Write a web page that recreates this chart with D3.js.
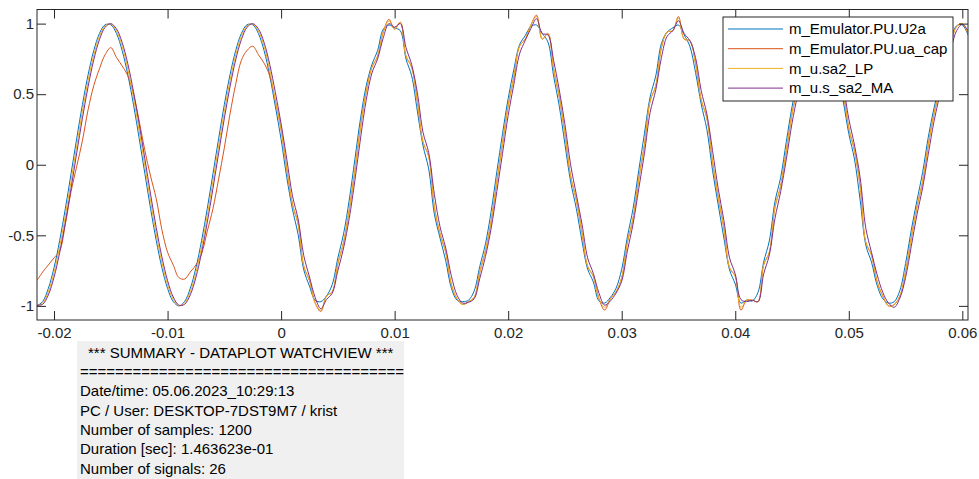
<!DOCTYPE html>
<html><head><meta charset="utf-8">
<script src="https://cdn.jsdelivr.net/npm/d3@7"></script>
<style>
body{margin:0;background:#fff}
svg{display:block}
text{font-family:"Liberation Sans",Arial,Helvetica,sans-serif}
</style>
</head><body>
<svg id="chart" width="979" height="479"></svg>
<script>
// ---------- data ----------
const sampleStart = -0.0215;
const sampleStep = 0.0005;

const seriesNames = ["m_Emulator.PU.U2a", "m_Emulator.PU.ua_cap", "m_u.sa2_LP", "m_u.s_sa2_MA"];
const seriesColors = ["#0072BD", "#D95319", "#EDB120", "#7E2F8E"];

const u2a = [
-1.000,-0.969,-0.876,-0.729,-0.536,-0.309,-0.063,0.187,0.426,0.637,
0.809,0.930,0.992,0.992,0.930,0.809,0.637,0.426,0.187,-0.063,
-0.309,-0.536,-0.729,-0.876,-0.969,-1.000,-0.969,-0.876,-0.729,-0.536,
-0.309,-0.063,0.187,0.426,0.637,0.809,0.930,0.992,0.992,0.930,
0.809,0.63,0.41,0.18,-0.09,-0.315,-0.495,-0.745,-0.86,-0.96,
-0.97,-0.93,-0.85,-0.66,-0.49,-0.25,0.04,0.33,0.56,0.71,
0.81,0.96,0.99,0.97,0.95,0.75,0.63,0.38,0.135,-0.03,
-0.35,-0.52,-0.68,-0.875,-0.96,-0.97,-0.96,-0.895,-0.72,-0.56,
-0.33,-0.05,0.22,0.47,0.675,0.85,0.915,0.98,0.99,0.93,
0.87,0.63,0.415,0.145,-0.12,-0.31,-0.54,-0.74,-0.83,-0.965,
-0.98,-0.94,-0.875,-0.74,-0.51,-0.31,-0.04,0.22,0.48,0.63,
0.86,0.94,0.97,0.99,0.92,0.84,0.655,0.43,0.25,-0.04,
-0.285,-0.52,-0.745,-0.845,-0.98,-0.96,-0.965,-0.905,-0.69,-0.54,
-0.26,-0.09,0.165,0.41,0.60,0.79,0.92,0.985,0.99,0.925,
0.81,0.655,0.455,0.22,0.04,-0.25,-0.57,-0.69,-0.855,-0.95,
-0.98,-0.97,-0.89,-0.70,-0.465,-0.255,-0.055,0.195,0.40,0.57,
0.74,0.89,0.985,0.99,0.92
];

const uaCap = [
-0.82,-0.76,-0.71,-0.66,-0.61,-0.42,-0.19,-0.01,0.17,0.39,
0.56,0.68,0.78,0.83,0.76,0.70,0.63,0.50,0.31,0.10,
-0.08,-0.24,-0.46,-0.62,-0.71,-0.80,-0.81,-0.76,-0.71,-0.63,
-0.47,-0.31,-0.10,0.12,0.36,0.57,0.74,0.81,0.84,0.78,
0.72,0.63,0.45,0.25,-0.03,-0.28,-0.42,-0.72,-0.82,-0.98,
-1.04,-0.93,-0.90,-0.70,-0.55,-0.32,-0.04,0.27,0.52,0.69,
0.77,0.94,1.03,0.96,1.01,0.77,0.69,0.45,0.16,0.06,
-0.30,-0.49,-0.62,-0.85,-0.95,-0.99,-0.97,-0.94,-0.76,-0.61,
-0.40,-0.12,0.15,0.42,0.62,0.84,0.89,0.99,1.06,0.89,
0.93,0.68,0.48,0.22,-0.08,-0.25,-0.48,-0.72,-0.79,-0.95,
-1.03,-0.95,-0.90,-0.80,-0.55,-0.38,-0.10,0.14,0.45,0.56,
0.83,0.94,0.95,1.05,0.89,0.88,0.72,0.46,0.33,0.02,
-0.23,-0.45,-0.73,-0.79,-1.03,-0.96,-0.96,-0.97,-0.71,-0.62,
-0.30,-0.15,0.10,0.36,0.55,0.75,0.90,0.98,1.00,0.95,
0.85,0.70,0.52,0.26,0.10,-0.15,-0.55,-0.64,-0.83,-0.93,
-1.00,-0.99,-0.93,-0.76,-0.52,-0.30,-0.12,0.14,0.36,0.53,
0.70,0.86,0.98,1.00,0.93
];

const sa2LP = [
-0.999,-0.980,-0.900,-0.764,-0.579,-0.358,-0.115,0.136,0.378,0.596,
0.777,0.909,0.984,0.997,0.948,0.839,0.677,0.473,0.239,-0.010,
-0.259,-0.491,-0.692,-0.850,-0.954,-0.999,-0.980,-0.900,-0.764,-0.579,
-0.358,-0.115,0.136,0.378,0.596,0.777,0.909,0.984,0.997,0.948,
0.839,0.67,0.45,0.25,-0.03,-0.28,-0.42,-0.72,-0.82,-0.98,
-1.03,-0.93,-0.90,-0.70,-0.55,-0.32,-0.04,0.27,0.52,0.69,
0.77,0.94,1.02,0.96,1.01,0.77,0.69,0.45,0.16,0.06,
-0.30,-0.49,-0.62,-0.85,-0.95,-0.99,-0.97,-0.94,-0.76,-0.61,
-0.40,-0.12,0.15,0.42,0.62,0.84,0.89,0.99,1.05,0.89,
0.93,0.68,0.48,0.22,-0.08,-0.25,-0.48,-0.72,-0.79,-0.95,
-1.01,-0.95,-0.90,-0.80,-0.55,-0.38,-0.10,0.14,0.45,0.56,
0.83,0.94,0.95,1.04,0.89,0.88,0.72,0.46,0.33,0.02,
-0.23,-0.45,-0.73,-0.79,-1.01,-0.96,-0.96,-0.97,-0.71,-0.62,
-0.30,-0.15,0.10,0.36,0.55,0.75,0.90,0.98,1.00,0.95,
0.85,0.70,0.52,0.26,0.10,-0.15,-0.55,-0.64,-0.83,-0.93,
-1.00,-0.99,-0.93,-0.76,-0.52,-0.30,-0.12,0.14,0.36,0.53,
0.70,0.86,0.98,1.00,0.93
];

const sa2MA = [
-0.995,-0.989,-0.922,-0.797,-0.621,-0.407,-0.167,0.084,0.329,0.553,
0.743,0.886,0.974,1.000,0.963,0.866,0.715,0.518,0.289,0.042,
-0.208,-0.445,-0.653,-0.821,-0.937,-0.995,-0.989,-0.922,-0.797,-0.621,
-0.407,-0.167,0.084,0.329,0.553,0.743,0.886,0.974,1.000,0.963,
0.866,0.71,0.51,0.29,0.04,-0.22,-0.385,-0.645,-0.795,-0.94,
-1.02,-0.955,-0.91,-0.75,-0.59,-0.38,-0.11,0.19,0.46,0.65,
0.75,0.90,1.00,0.975,1.00,0.83,0.71,0.51,0.23,0.085,
-0.21,-0.44,-0.59,-0.79,-0.925,-0.98,-0.975,-0.95,-0.805,-0.65,
-0.45,-0.19,0.08,0.35,0.57,0.785,0.88,0.965,1.035,0.93,
0.92,0.74,0.53,0.285,0.0,-0.21,-0.42,-0.66,-0.77,-0.91,
-0.995,-0.965,-0.91,-0.825,-0.61,-0.42,-0.17,0.08,0.37,0.53,
0.76,0.91,0.95,1.02,0.93,0.88,0.76,0.525,0.36,0.10,
-0.17,-0.395,-0.66,-0.775,-0.955,-0.97,-0.96,-0.97,-0.775,-0.64,
-0.38,-0.19,0.04,0.295,0.50,0.70,0.86,0.96,0.995,0.96,
0.875,0.74,0.565,0.325,0.14,-0.09,-0.45,-0.62,-0.78,-0.905,
-0.98,-1.01,-0.945,-0.80,-0.58,-0.355,-0.165,0.075,0.305,0.49,
0.66,0.82,0.95,0.995,0.95
];

const xDomain = [-0.0215, 0.0605];
const yDomain = [-1.1, 1.1];
const xTicks = [-0.02, -0.01, 0, 0.01, 0.02, 0.03, 0.04, 0.05, 0.06];
const xTickLabels = ["-0.02", "-0.01", "0", "0.01", "0.02", "0.03", "0.04", "0.05", "0.06"];
const yTicks = [-1, -0.5, 0, 0.5, 1];
const yTickLabels = ["-1", "-0.5", "0", "0.5", "1"];

const summaryLines = [
  "*** SUMMARY - DATAPLOT WATCHVIEW ***",
  "=====================================",
  "Date/time: 05.06.2023_10:29:13",
  "PC / User: DESKTOP-7DST9M7 / krist",
  "Number of samples: 1200",
  "Duration [sec]: 1.463623e-01",
  "Number of signals: 26"
];

// ---------- layout ----------
const svg = d3.select("#chart");
const plot = {left: 37, right: 968, top: 9.5, bottom: 320};
const axisColor = "#262626";
const fontSize = 15;
const tickLen = 9;

const x = d3.scaleLinear().domain(xDomain).range([plot.left, plot.right]);
const y = d3.scaleLinear().domain(yDomain).range([plot.bottom, plot.top]);

svg.append("rect").attr("width", 979).attr("height", 479).attr("fill", "#fff");

svg.append("defs").append("clipPath").attr("id", "clip")
  .append("rect").attr("x", plot.left).attr("y", plot.top)
  .attr("width", plot.right - plot.left).attr("height", plot.bottom - plot.top);

// series
const allSeries = [u2a, uaCap, sa2LP, sa2MA];
const line = d3.line()
  .x((d, i) => x(sampleStart + i * sampleStep))
  .y(d => y(d))
  .curve(d3.curveCatmullRom.alpha(0.5));
const gLines = svg.append("g").attr("clip-path", "url(#clip)");
allSeries.forEach((s, i) => {
  gLines.append("path").datum(s)
    .attr("d", line)
    .attr("fill", "none")
    .attr("stroke", seriesColors[i])
    .attr("stroke-width", 1)
    .attr("stroke-linejoin", "round");
});

// axes
function styleAxis(g) {
  g.selectAll("path.domain").remove();
  g.selectAll("line").attr("stroke", axisColor);
  g.selectAll("text").attr("fill", axisColor).attr("font-size", fontSize)
    .attr("font-family", '"Liberation Sans", Arial, sans-serif');
}
const fmtX = d => xTickLabels[xTicks.indexOf(d)];
const fmtY = d => yTickLabels[yTicks.indexOf(d)];

svg.append("g").attr("transform", `translate(0,${plot.bottom})`)
  .call(d3.axisBottom(x).tickValues(xTicks).tickFormat(fmtX).tickSizeInner(-tickLen).tickSizeOuter(0).tickPadding(7))
  .call(styleAxis);
svg.append("g").attr("transform", `translate(0,${plot.top})`)
  .call(d3.axisTop(x).tickValues(xTicks).tickFormat("").tickSizeInner(-tickLen).tickSizeOuter(0))
  .call(styleAxis);
svg.append("g").attr("transform", `translate(${plot.left},0)`)
  .call(d3.axisLeft(y).tickValues(yTicks).tickFormat(fmtY).tickSizeInner(-tickLen).tickSizeOuter(0).tickPadding(3))
  .call(styleAxis);
svg.append("g").attr("transform", `translate(${plot.right},0)`)
  .call(d3.axisRight(y).tickValues(yTicks).tickFormat("").tickSizeInner(-tickLen).tickSizeOuter(0))
  .call(styleAxis);

// box
svg.append("rect")
  .attr("x", plot.left).attr("y", plot.top)
  .attr("width", plot.right - plot.left).attr("height", plot.bottom - plot.top)
  .attr("fill", "none").attr("stroke", axisColor).attr("stroke-width", 1);

// legend
const leg = {x: 723, y: 17, w: 230, h: 84, rowY0: 29, rowStep: 19.7, lineX0: 728, lineX1: 783, textX: 789};
const gLeg = svg.append("g");
gLeg.append("rect").attr("x", leg.x).attr("y", leg.y).attr("width", leg.w).attr("height", leg.h)
  .attr("fill", "#fff").attr("stroke", axisColor).attr("stroke-width", 1);
seriesNames.forEach((n, i) => {
  const yy = leg.rowY0 + i * leg.rowStep;
  gLeg.append("line").attr("x1", leg.lineX0).attr("x2", leg.lineX1).attr("y1", yy).attr("y2", yy)
    .attr("stroke", seriesColors[i]).attr("stroke-width", 1);
  gLeg.append("text").attr("x", leg.textX).attr("y", yy).attr("dy", "0.35em")
    .attr("font-size", fontSize).attr("fill", "#000").text(n);
});

// summary box
const sum = {x: 77, y: 341, w: 327, h: 140, textX: 80, titleX: 88, base0: 357.5, step: 19.35};
const gSum = svg.append("g");
gSum.append("rect").attr("x", sum.x).attr("y", sum.y).attr("width", sum.w).attr("height", sum.h)
  .attr("fill", "#f0f0f0");
summaryLines.forEach((t, i) => {
  gSum.append("text").attr("x", i === 0 ? sum.titleX : sum.textX)
    .attr("y", sum.base0 + i * sum.step)
    .attr("font-size", fontSize).attr("fill", "#000").text(t);
});
</script>
</body></html>
